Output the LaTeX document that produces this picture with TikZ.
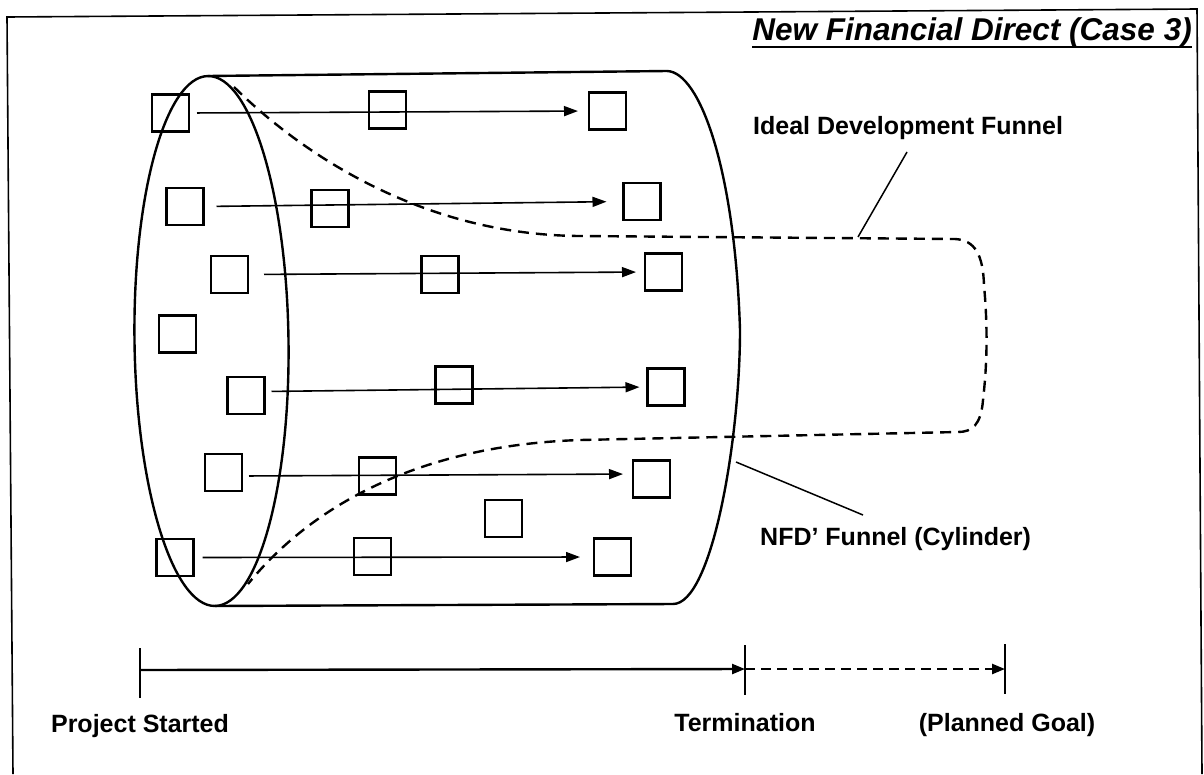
\documentclass[tikz,border=0pt]{standalone}
\usepackage{fontspec}
\setmainfont{Liberation Sans}
\usetikzlibrary{arrows.meta}
\begin{document}
\begin{tikzpicture}[x=1pt,y=-1pt,
  sq/.style={draw,line width=2.2pt,minimum size=37pt,inner sep=0pt,outer sep=0pt},
  flow/.style={line width=1.6pt,-{Triangle[length=14pt,width=10pt]}},
  cyl/.style={line width=2.4pt},
  funnel/.style={line width=2.4pt,dash pattern=on 11pt off 7pt},
  lbl/.style={font=\fontsize{25}{30}\selectfont\bfseries,inner sep=0pt},
  lead/.style={line width=1.5pt},
  tick/.style={line width=2pt},
  tline/.style={line width=2.4pt,-{Triangle[length=13pt,width=10pt]}}]
\useasboundingbox (0,0) rectangle (1204,774);
% frame (bottom edge lies outside the picture)
\draw[line width=1.6pt] (13,774) -- (7,17) -- (1197,9) -- (1202,774);
% title
\node[font=\fontsize{31.5}{38}\selectfont\bfseries\itshape,inner sep=0pt,anchor=base east] (title) at (1192,40) {New Financial Direct (Case 3)};
\draw[line width=2.6pt] ([yshift=-7pt]title.base west) -- ([yshift=-7pt]title.base east);
% cylinder
\draw[cyl] (208,76) -- (667,71) .. controls (700,72) and (735,170) .. (740,330)
  .. controls (740,440) and (712,604) .. (673,604) -- (215,606);
\draw[cyl,rotate around={0.76:(211.5,341)}] (211.5,341) ellipse [x radius=77, y radius=265];
% ideal funnel
\draw[funnel] (234,87) .. controls (300,152) and (420,235) .. (580,236) -- (955,239)
  .. controls (975,240) and (983,255) .. (984,285)
  .. controls (988,330) and (987,365) .. (983,400)
  .. controls (981,425) and (972,432) .. (958,432)
  -- (580,440) .. controls (400,446) and (300,520) .. (248,584);
% boxes
\node[sq] (a1) at (170.5,113) {};
\node[sq] (m1) at (387.5,110) {};
\node[sq] (e1) at (607.5,111) {};
\node[sq] (a2) at (185,206.5) {};
\node[sq] (m2) at (330,208.5) {};
\node[sq] (e2) at (642,201.5) {};
\node[sq] (a3) at (229.5,274.5) {};
\node[sq] (m3) at (440,274.5) {};
\node[sq] (e3) at (663.5,272) {};
\node[sq] (l4) at (177.5,334) {};
\node[sq] (a5) at (246,395.5) {};
\node[sq] (m5) at (454,385) {};
\node[sq] (e5) at (666,387) {};
\node[sq] (a6) at (223.5,472.5) {};
\node[sq] (m6) at (377.5,476) {};
\node[sq] (e6) at (651.5,479) {};
\node[sq] (b7) at (503.5,518.5) {};
\node[sq] (a7) at (175,557.5) {};
\node[sq] (m7) at (372.5,556.5) {};
\node[sq] (e7) at (612.5,557) {};
% flows
\draw[flow,shorten <=8pt,shorten >=11pt] (a1.east) -- (e1.west);
\draw[flow,shorten <=13pt,shorten >=17pt] (a2.east) -- (e2.west);
\draw[flow,shorten <=16pt,shorten >=9pt] (a3.east) -- (e3.west);
\draw[flow,shorten <=7pt,shorten >=8pt] ([yshift=4pt]a5.east) -- (e5.west);
\draw[flow,shorten <=7pt,shorten >=10pt] ([yshift=-3.5pt]a6.east) -- ([yshift=5pt]e6.west);
\draw[flow,shorten <=9pt,shorten >=14pt] (a7.east) -- (e7.west);
% labels
\node[lbl,anchor=base west] (ideal) at (753,134) {Ideal Development Funnel};
\coordinate (idealA) at (907,152);
\coordinate (idealB) at (858,237);
\draw[lead] (idealA) -- (idealB);
\node[lbl,anchor=base west] (nfd) at (760,545) {NFD’ Funnel (Cylinder)};
\coordinate (nfdA) at (736,462);
\coordinate (nfdB) at (863,515);
\draw[lead] (nfdA) -- (nfdB);
% timeline
\coordinate (t0) at (140,670);
\coordinate (t1) at (745,669);
\coordinate (t2) at (1005,669);
\draw[tick] (140,648) -- (140,698);
\draw[tick] (745,645) -- (745,695);
\draw[tick] (1005,644) -- (1005,694);
\draw[tline] (t0) -- (t1);
\draw[tline,dash pattern=on 10pt off 6pt] (t1) -- (t2);
\node[lbl,anchor=base] (ps) at (140,732) {Project Started};
\node[lbl,anchor=base] (term) at (745,731) {Termination};
\node[lbl,anchor=base] (goal) at (1007,731) {(Planned Goal)};
\end{tikzpicture}
\end{document}
